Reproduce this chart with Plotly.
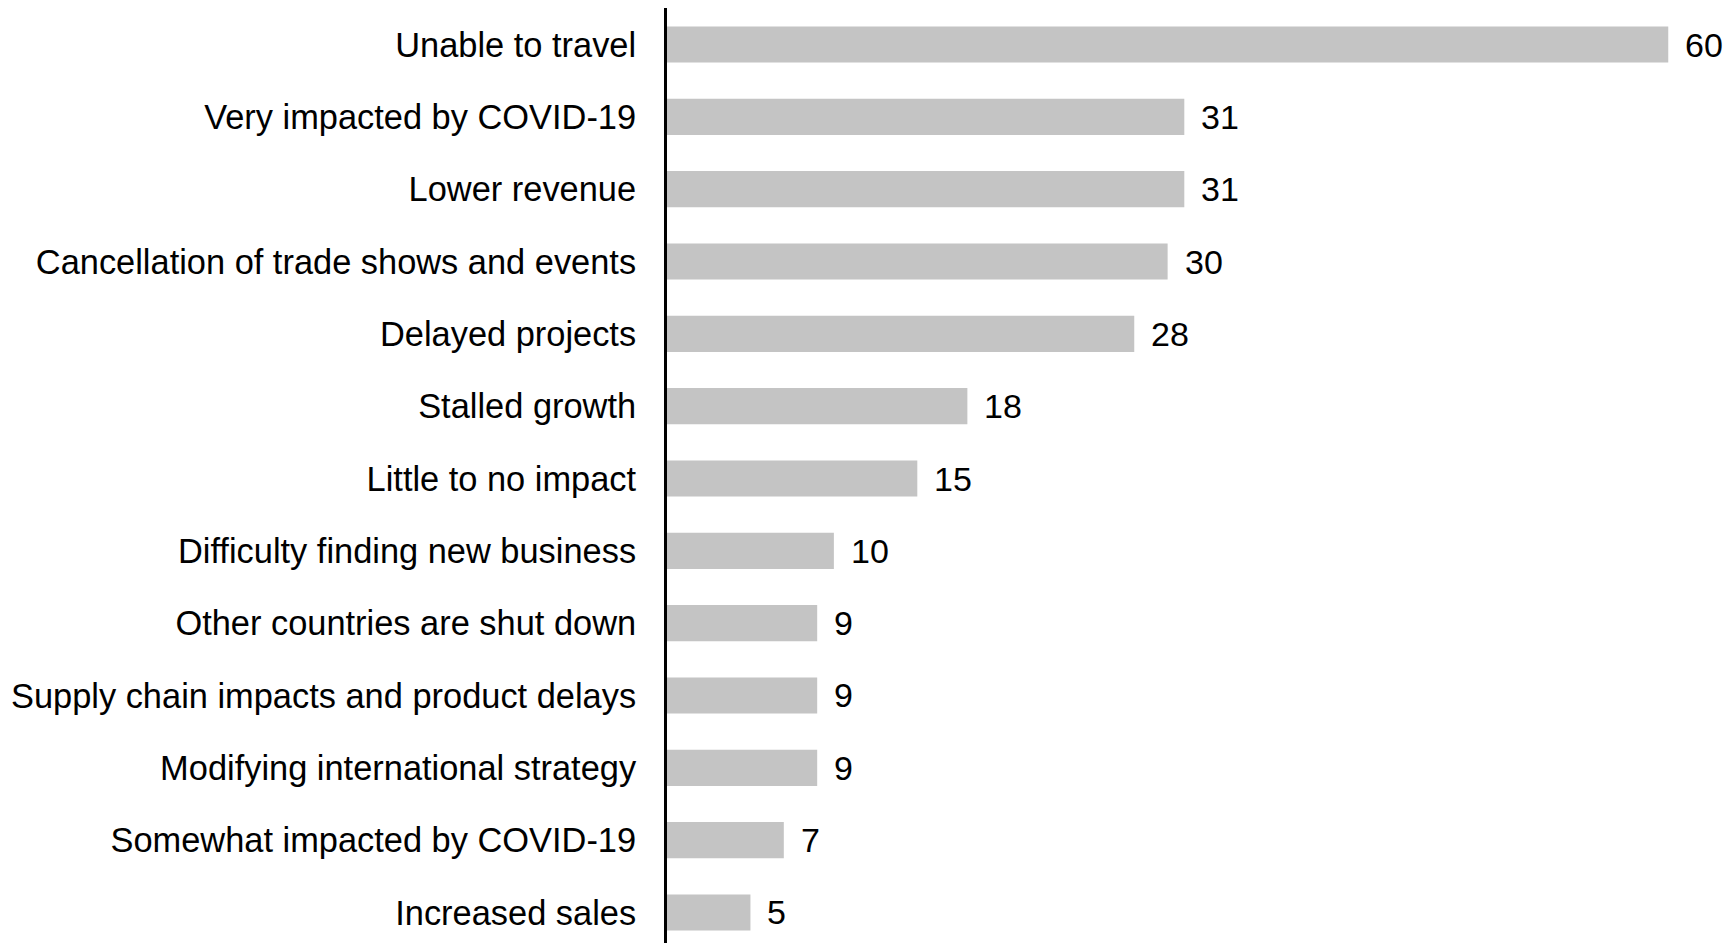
import plotly.graph_objects as go

categories = [
    "Unable to travel",
    "Very impacted by COVID-19",
    "Lower revenue",
    "Cancellation of trade shows and events",
    "Delayed projects",
    "Stalled growth",
    "Little to no impact",
    "Difficulty finding new business",
    "Other countries are shut down",
    "Supply chain impacts and product delays",
    "Modifying international strategy",
    "Somewhat impacted by COVID-19",
    "Increased sales",
]
values = [60, 31, 31, 30, 28, 18, 15, 10, 9, 9, 9, 7, 5]

FONT = "Liberation Sans, Arial, sans-serif"

fig = go.Figure(go.Bar(
    y=categories,
    x=values,
    orientation="h",
    marker=dict(color="#c4c4c4", line=dict(width=0)),
    width=0.5,
))

annotations = [
    dict(x=v, y=c, text=str(v), xref="x", yref="y", xanchor="left",
         xshift=15, showarrow=False,
         font=dict(family=FONT, size=34, color="black"))
    for c, v in zip(categories, values)
]

fig.update_layout(
    width=1735, height=943,
    margin=dict(l=667, r=0, t=8, b=0),
    plot_bgcolor="white", paper_bgcolor="white",
    showlegend=False,
    annotations=annotations,
    font=dict(family=FONT, size=34, color="black"),
)
fig.update_xaxes(range=[0, 64], visible=False)
fig.update_yaxes(
    categoryorder="array", categoryarray=categories,
    range=[12.422, -0.505],
    showline=True, linecolor="black", linewidth=3,
    showgrid=False, zeroline=False,
    ticks="", ticklabelstandoff=21,
    tickfont=dict(family=FONT, size=34.4, color="black"),
)

fig.write_html("out.html")
